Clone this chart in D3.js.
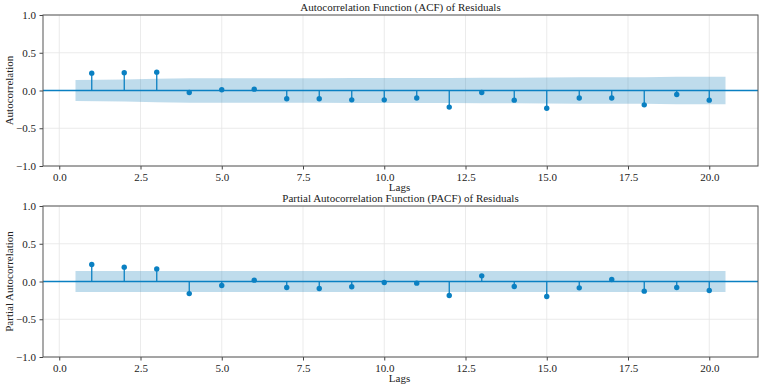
<!DOCTYPE html>
<html>
<head>
<meta charset="utf-8">
<script src="https://cdn.jsdelivr.net/npm/d3@7"></script>
<style>
  body { margin: 0; background: #fff; }
</style>
</head>
<body>
<div id="chart"></div>
<script>
// Lags 1..20 (lag 0 left out)
const lags = d3.range(1, 21);

// ACF values of the residuals
const acfValues = [0.23, 0.235, 0.243, -0.027, 0.01, 0.018, -0.11, -0.11, -0.124, -0.124,
  -0.10, -0.22, -0.027, -0.128, -0.235, -0.10, -0.10, -0.19, -0.053, -0.128];
// ACF confidence half-width (Bartlett, grows with lag)
const acfBand = [0.140, 0.147, 0.155, 0.162, 0.162, 0.162, 0.162, 0.163, 0.164, 0.165,
  0.166, 0.167, 0.170, 0.170, 0.171, 0.176, 0.176, 0.177, 0.181, 0.183];

// PACF values of the residuals
const pacfValues = [0.225, 0.19, 0.167, -0.16, -0.053, 0.018, -0.08, -0.093, -0.07, -0.013,
  -0.022, -0.185, 0.075, -0.066, -0.198, -0.084, 0.026, -0.128, -0.08, -0.119];
const pacfBand = lags.map(() => 0.139);

const xTicks = [0, 2.5, 5, 7.5, 10, 12.5, 15, 17.5, 20];
const yTicks = [-1, -0.5, 0, 0.5, 1];

const width = 761, height = 388;
const color = "#0a80c2";
const font = "Liberation Serif";
const fs = 11;

const svg = d3.select("#chart").append("svg")
    .attr("width", width)
    .attr("height", height);

function label(g, txt) {
    return g.append("text")
        .attr("font-family", font)
        .attr("font-size", fs)
        .attr("fill", "#222")
        .attr("text-anchor", "middle")
        .text(txt);
}

function drawPanel(top, title, yLabel, values, band) {
    const left = 43, right = 758, bottom = top + 151;
    const x = d3.scaleLinear().domain([-0.5, 21.5]).range([left, right]);
    const y = d3.scaleLinear().domain([-1, 1]).range([bottom, top]);
    const g = svg.append("g");

    // grid
    g.selectAll(".gx").data(xTicks).enter().append("line")
        .attr("x1", d => x(d)).attr("x2", d => x(d))
        .attr("y1", top).attr("y2", bottom)
        .attr("stroke", "#e6e6e6").attr("stroke-width", 0.8);
    g.selectAll(".gy").data(yTicks).enter().append("line")
        .attr("x1", left).attr("x2", right)
        .attr("y1", d => y(d)).attr("y2", d => y(d))
        .attr("stroke", "#e6e6e6").attr("stroke-width", 0.8);

    // confidence band, ends stretched by half a lag
    const bandPts = lags.map((l, i) => ({
        x: i === 0 ? l - 0.5 : (i === lags.length - 1 ? l + 0.5 : l),
        h: band[i]
    }));
    g.append("path")
        .datum(bandPts)
        .attr("fill", "#0173b2")
        .attr("fill-opacity", 0.25)
        .attr("d", d3.area()
            .x(d => x(d.x))
            .y0(d => y(-d.h))
            .y1(d => y(d.h)));

    // zero line
    g.append("line")
        .attr("x1", left).attr("x2", right)
        .attr("y1", y(0)).attr("y2", y(0))
        .attr("stroke", color).attr("stroke-width", 1.3);

    // stems
    g.selectAll(".stem").data(values).enter().append("line")
        .attr("x1", (d, i) => x(lags[i])).attr("x2", (d, i) => x(lags[i]))
        .attr("y1", y(0)).attr("y2", d => y(d))
        .attr("stroke", color).attr("stroke-width", 1.3);
    g.selectAll(".dot").data(values).enter().append("circle")
        .attr("cx", (d, i) => x(lags[i]))
        .attr("cy", d => y(d))
        .attr("r", 2.7)
        .attr("fill", color);

    // axes
    const yFmt = d => (d < 0 ? "\u2212" : "") + Math.abs(d).toFixed(1);
    const xAxis = g.append("g")
        .attr("transform", `translate(0,${bottom})`)
        .call(d3.axisBottom(x).tickValues(xTicks).tickFormat(d3.format(".1f")).tickSize(3.5).tickPadding(3.5));
    const yAxis = g.append("g")
        .attr("transform", `translate(${left},0)`)
        .call(d3.axisLeft(y).tickValues(yTicks).tickFormat(yFmt).tickSize(3.5).tickPadding(3.5));
    [xAxis, yAxis].forEach(a => {
        a.attr("font-family", font).attr("font-size", fs);
        a.select(".domain").remove();
        a.selectAll("line").attr("stroke", "#444");
        a.selectAll("text").attr("fill", "#222");
    });

    // frame
    g.append("rect")
        .attr("x", left).attr("y", top)
        .attr("width", right - left).attr("height", bottom - top)
        .attr("fill", "none").attr("stroke", "#555").attr("stroke-width", 1);

    // title and labels
    label(g, title)
        .attr("x", (left + right) / 2).attr("y", top - 4);
    label(g, "Lags")
        .attr("x", (left + right) / 2 - 1).attr("y", bottom + 25);
    label(g, yLabel)
        .attr("transform", `translate(13,${(top + bottom) / 2}) rotate(-90)`);
}

drawPanel(15, "Autocorrelation Function (ACF) of Residuals", "Autocorrelation", acfValues, acfBand);
drawPanel(206, "Partial Autocorrelation Function (PACF) of Residuals", "Partial Autocorrelation", pacfValues, pacfBand);
</script>
</body>
</html>
